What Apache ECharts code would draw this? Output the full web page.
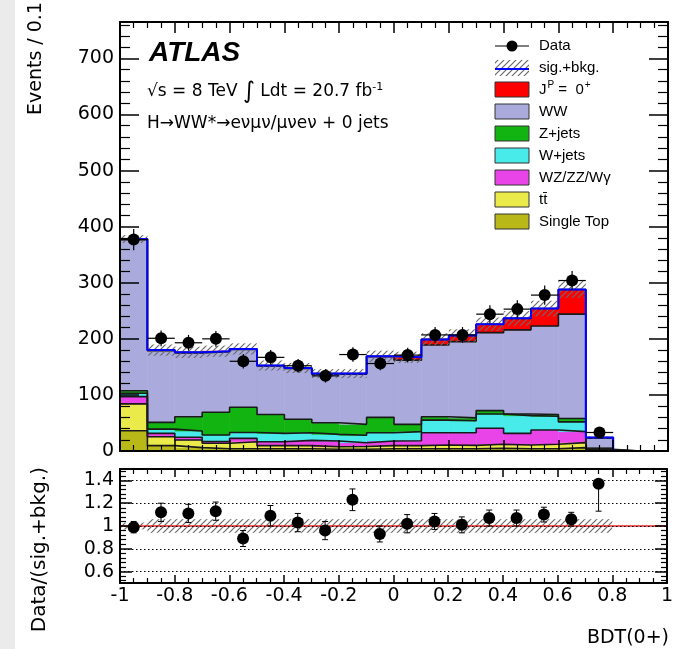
<!DOCTYPE html>
<html>
<head>
<meta charset="utf-8">
<script src="https://cdn.jsdelivr.net/npm/echarts@6/dist/echarts.min.js"></script>
<style>
html,body{margin:0;padding:0;background:#fff;}
#chart{width:676px;height:649px;}
</style>
</head>
<body>
<div id="chart"></div>
<script>
// BDT(0+) distribution, 20 bins of width 0.1
const binEdges = [-1,-0.9,-0.8,-0.7,-0.6,-0.5,-0.4,-0.3,-0.2,-0.1,0,0.1,0.2,0.3,0.4,0.5,0.6,0.7,0.8,0.9,1];

// Expected events per bin, stacked bottom to top
const singleTop = [36,9.5,6,4,4,4,4,3,3,4,4,4,4,5,4,4,6,1,0,0];
const ttbar     = [48,16,13.6,9.7,12.6,5.5,5.5,4.7,5,5.5,5.5,6.7,6,7,6.7,8,9,1,0,0];
const wzzzwg    = [13,6,4.8,3.3,6,7.1,9.5,10.1,6.8,8.3,8.9,21.9,22.6,28.5,20.8,25.4,19.5,1,0,0];
const wjets     = [6,7.5,11.2,11.5,10.4,14.9,13.6,11.9,13.2,14.8,16.1,22.4,21.4,25.5,31.5,24.6,17.5,1.5,0,0];
const zjets     = [4.5,12,25.4,40.5,45,33.5,23.9,20.8,19.5,27.4,13,6,5,6,3,3,6,0.5,0,0];
const ww        = [269.5,128,114,108,103,86.5,90.5,86.5,89.5,108,114.5,128,136,139,150,158,186,18,0,0];
const signal0p  = [1,1,1,1,1,1,1,1,1,1,5,10,11,15,20.5,31,44,1,0,0];

// Systematic uncertainty on sig.+bkg. (events)
const bandHalf  = [7,10,10,10,10,9,9,8,8,10,10,11,11,12,13,14,15,2,0,0];

// Observed data and statistical errors
const dataVals  = [377,201,193,200,160,167,152,134,172,156,171,207,207,244,253,278,304,33,null,null];
const dataErr   = [19,14,14,14,13,13,12,12,13,12,13,14,14,16,16,17,17,6,0,0];

// Ratio panel
const ratioVals = [0.99,1.12,1.11,1.13,0.89,1.09,1.03,0.96,1.23,0.93,1.02,1.04,1.01,1.07,1.07,1.10,1.06,1.37];
const ratioErrDn= [0.05,0.08,0.08,0.08,0.07,0.09,0.08,0.08,0.095,0.07,0.08,0.07,0.07,0.07,0.07,0.065,0.06,0.24];
const ratioErrUp= [0.05,0.08,0.08,0.08,0.07,0.09,0.08,0.08,0.095,0.07,0.08,0.07,0.07,0.07,0.07,0.065,0.06,0];
const ratioBand = [0.03,0.06,0.06,0.06,0.06,0.06,0.06,0.06,0.06,0.06,0.06,0.06,0.06,0.06,0.06,0.06,0.06,0.06];

const layers = [
  {name:'Single Top', vals:singleTop, color:'#b8b818'},
  {name:'tt', vals:ttbar, color:'#eaea4a'},
  {name:'WZ/ZZ/Wγ', vals:wzzzwg, color:'#e844e8'},
  {name:'W+jets', vals:wjets, color:'#48eaea'},
  {name:'Z+jets', vals:zjets, color:'#12b412'},
  {name:'WW', vals:ww, color:'#aaaadc'},
  {name:'JP=0+', vals:signal0p, color:'#ff0000'}
];

const nBins = binEdges.length - 1;
const FONT = 'Liberation Sans, Arial, Helvetica, sans-serif';
const WFONT = 'DejaVu Sans, Liberation Sans, sans-serif';

// hatch pattern for uncertainty bands
function makeHatch() {
  const c = document.createElement('canvas');
  c.width = 6; c.height = 6;
  const g = c.getContext('2d');
  g.strokeStyle = '#6a6a6a';
  g.lineWidth = 1.2;
  g.beginPath();
  g.moveTo(-1,7); g.lineTo(7,-1);
  g.moveTo(-4,4); g.lineTo(4,-4);
  g.moveTo(2,10); g.lineTo(10,2);
  g.stroke();
  return c;
}
const hatch = {image: makeHatch(), repeat: 'repeat'};

// step points on bin edges (last bin repeated at the right edge)
function stepPoints(vals) {
  return binEdges.map((x,i) => [x, vals[Math.min(i, nBins-1)]]);
}

function rectRenderer(fill, stroke) {
  return function(params, api) {
    const p1 = api.coord([api.value(0), api.value(3)]);
    const p2 = api.coord([api.value(1), api.value(2)]);
    const st = {fill: fill};
    if (stroke) { st.stroke = stroke; st.lineWidth = 0.6; }
    return {type:'rect', shape:{x:p1[0], y:p1[1], width:p2[0]-p1[0], height:p2[1]-p1[1]}, style:st};
  };
}

const series = [];

// stacked histogram: filled bins plus a dark step outline on each layer
let base = new Array(nBins).fill(0);
layers.forEach((l, k) => {
  const top = base.map((b, i) => b + l.vals[i]);
  const rects = [];
  for (let i = 0; i < nBins; i++) {
    if (l.vals[i] > 0) rects.push([binEdges[i], binEdges[i+1], base[i], top[i]]);
  }
  series.push({type:'custom', xAxisIndex:0, yAxisIndex:0, data:rects,
    renderItem:rectRenderer(l.color, l.color), silent:true, z:2});
  series.push({type:'line', xAxisIndex:0, yAxisIndex:0, data:stepPoints(top), step:'end',
    symbol:'none', silent:true, lineStyle:{color:'#1a1a1a', width:1.6}, z:2.5});
  base = top;
});
const totals = base;

// uncertainty band on sig.+bkg.
const bandData = [];
for (let i = 0; i < nBins; i++) {
  if (bandHalf[i] > 0) bandData.push([binEdges[i], binEdges[i+1], totals[i]-bandHalf[i], totals[i]+bandHalf[i]]);
}
series.push({type:'custom', xAxisIndex:0, yAxisIndex:0, data:bandData, renderItem:rectRenderer(hatch), silent:true, z:3});

// sig.+bkg. outline
series.push({type:'line', xAxisIndex:0, yAxisIndex:0, data:stepPoints(totals), step:'end',
  symbol:'none', silent:true, lineStyle:{color:'#0000ff', width:2}, z:4});

// data points with error bars
const dataPts = [], dataBars = [];
for (let i = 0; i < nBins; i++) {
  if (dataVals[i] == null) continue;
  const xc = (binEdges[i] + binEdges[i+1]) / 2;
  dataPts.push([xc, dataVals[i]]);
  dataBars.push([xc, dataVals[i], dataErr[i], (binEdges[i+1]-binEdges[i])/2]);
}
series.push({type:'custom', xAxisIndex:0, yAxisIndex:0, data:dataBars, silent:true, z:5,
  renderItem:function(params, api){
    const x = api.value(0), y = api.value(1), e = api.value(2), hw = api.value(3);
    const a = api.coord([x, y-e]), b = api.coord([x, y+e]);
    const l = api.coord([x-hw, y]), r = api.coord([x+hw, y]);
    return {type:'group', children:[
      {type:'line', shape:{x1:a[0],y1:a[1],x2:b[0],y2:b[1]}, style:{stroke:'#000', lineWidth:1.2}},
      {type:'line', shape:{x1:l[0],y1:l[1],x2:r[0],y2:r[1]}, style:{stroke:'#000', lineWidth:1.2}}
    ]};
  }});
series.push({type:'scatter', xAxisIndex:0, yAxisIndex:0, data:dataPts, symbol:'circle', symbolSize:12,
  itemStyle:{color:'#000', opacity:1}, silent:true, z:6});

// ratio panel: band, unity line, points
const rBand = [], rPts = [], rBars = [];
for (let i = 0; i < ratioVals.length; i++) {
  const xc = (binEdges[i] + binEdges[i+1]) / 2;
  rBand.push([binEdges[i], binEdges[i+1], 1-ratioBand[i], 1+ratioBand[i]]);
  rPts.push([xc, ratioVals[i]]);
  rBars.push([xc, ratioVals[i], ratioErrDn[i], ratioErrUp[i]]);
}
series.push({type:'custom', xAxisIndex:2, yAxisIndex:2, data:rBand, renderItem:rectRenderer(hatch), silent:true, z:3, clip:true});
series.push({type:'line', xAxisIndex:2, yAxisIndex:2, data:[[binEdges[0],1],[binEdges[nBins],1]],
  symbol:'none', silent:true, lineStyle:{color:'#e8211e', width:1.4}, z:4});
series.push({type:'custom', xAxisIndex:2, yAxisIndex:2, data:rBars, silent:true, z:5, clip:true,
  renderItem:function(params, api){
    const x = api.value(0), y = api.value(1), dn = api.value(2), up = api.value(3);
    const a = api.coord([x, y-dn]), b = api.coord([x, y+up]);
    const ch = [{type:'line', shape:{x1:a[0],y1:a[1],x2:b[0],y2:b[1]}, style:{stroke:'#000', lineWidth:1}}];
    if (dn > 0) ch.push({type:'line', shape:{x1:a[0]-3,y1:a[1],x2:a[0]+3,y2:a[1]}, style:{stroke:'#000', lineWidth:1}});
    if (up > 0) ch.push({type:'line', shape:{x1:b[0]-3,y1:b[1],x2:b[0]+3,y2:b[1]}, style:{stroke:'#000', lineWidth:1}});
    return {type:'group', children:ch};
  }});
series.push({type:'scatter', xAxisIndex:2, yAxisIndex:2, data:rPts, symbol:'circle', symbolSize:12,
  itemStyle:{color:'#000', opacity:1}, silent:true, z:6});

// axes: frame with inward ticks on all four sides
function xAx(grid, pos, labels, major, minor) {
  return {type:'value', gridIndex:grid, position:pos, min:-1, max:1, interval:0.2, z:10,
    axisLine:{show:true, onZero:false, lineStyle:{color:'#000', width:2}},
    axisTick:{show:true, inside:true, length:major, lineStyle:{color:'#000', width:1.5}},
    minorTick:{show:true, splitNumber:4, length:minor, lineStyle:{color:'#000', width:1.2}},
    axisLabel:{show:labels, color:'#000', fontFamily:WFONT, fontSize:19, margin:4,
      formatter:function(v){ return String(+v.toFixed(1)); }},
    splitLine:{show:false}};
}
const xAxes = [
  xAx(0,'bottom',false,11,6), xAx(0,'top',false,11,6),
  xAx(1,'bottom',true,8,5), xAx(1,'top',false,8,5)
];
const yTop = function(pos, labels){
  return {type:'value', gridIndex:0, position:pos, min:0, max:765, interval:100, z:10,
    axisLine:{show:true, onZero:false, lineStyle:{color:'#000', width:2}},
    axisTick:{show:true, inside:true, length:19, lineStyle:{color:'#000', width:1.5}},
    minorTick:{show:true, splitNumber:5, length:10, lineStyle:{color:'#000', width:1.2}},
    axisLabel:{show:labels, color:'#000', fontFamily:WFONT, fontSize:19, margin:6, showMaxLabel:false},
    splitLine:{show:false}};
};
const yRatio = function(pos, labels){
  return {type:'value', gridIndex:1, position:pos, min:0.5, max:1.5, splitNumber:5, z:10,
    axisLine:{show:true, onZero:false, lineStyle:{color:'#000', width:2}},
    axisTick:{show:true, inside:true, length:12, lineStyle:{color:'#000', width:1.5}},
    minorTick:{show:true, splitNumber:5, length:6, lineStyle:{color:'#000', width:1.2}},
    axisLabel:{show:labels, color:'#000', fontFamily:WFONT, fontSize:19, margin:6,
      showMinLabel:false, showMaxLabel:false,
      formatter:function(v){ return String(+v.toFixed(1)); }},
    splitLine:{show:labels, lineStyle:{color:'#000', width:1, type:[1.5,2.5]}}};
};
const yAxes = [yTop('left',true), yTop('right',false), yRatio('left',true), yRatio('right',false)];

// legend and labels drawn as text / shapes
const legendRows = [
  {kind:'data', label:'Data'},
  {kind:'band', label:'sig.+bkg.'},
  {kind:'box', color:'#ff0000', rich:'{n|J}{s|P}{n| =  0}{s|+}'},
  {kind:'box', color:'#aaaadc', label:'WW'},
  {kind:'box', color:'#12b412', label:'Z+jets'},
  {kind:'box', color:'#48eaea', label:'W+jets'},
  {kind:'box', color:'#e844e8', label:'WZ/ZZ/Wγ'},
  {kind:'box', color:'#eaea4a', label:'tt\u0304'},
  {kind:'box', color:'#b8b818', label:'Single Top'}
];
const graphics = [];
// light page margin on the left edge
graphics.push({type:'rect', shape:{x:0, y:0, width:15, height:649}, style:{fill:'#ebebeb'}, z:-10});
const LX = 495, LW = 34, LY0 = 46, LDY = 22;
legendRows.forEach((r, i) => {
  const yc = LY0 + i*LDY;
  if (r.kind === 'data') {
    graphics.push({type:'line', shape:{x1:LX, y1:yc, x2:LX+LW, y2:yc}, style:{stroke:'#000', lineWidth:1.2}});
    graphics.push({type:'circle', shape:{cx:LX+LW/2, cy:yc, r:5.5}, style:{fill:'#000'}});
  } else if (r.kind === 'band') {
    graphics.push({type:'rect', shape:{x:LX, y:yc-8, width:LW, height:16}, style:{fill:hatch}});
    graphics.push({type:'line', shape:{x1:LX, y1:yc+1, x2:LX+LW, y2:yc+1}, style:{stroke:'#0000ff', lineWidth:2}});
  } else {
    graphics.push({type:'rect', shape:{x:LX, y:yc-8, width:LW, height:15}, style:{fill:r.color, stroke:'#333', lineWidth:1}});
  }
  const ts = {x:LX+44, y:yc, textVerticalAlign:'middle', fill:'#000', fontFamily:FONT, fontSize:15};
  if (r.rich) {
    ts.text = r.rich;
    ts.rich = {n:{fontSize:15, fontFamily:FONT, fill:'#000'}, s:{fontSize:10, fontFamily:FONT, fill:'#000', padding:[0,0,9,1]}};
  } else ts.text = r.label;
  graphics.push({type:'text', style:ts});
});

graphics.push({type:'text', style:{x:149, y:53, text:'ATLAS', textVerticalAlign:'middle', fill:'#000',
  fontFamily:FONT, fontSize:28, fontWeight:'bold', fontStyle:'italic'}});
graphics.push({type:'text', style:{x:147, y:92, textVerticalAlign:'middle', fill:'#000', fontFamily:WFONT,
  text:'{n|\u221As = 8 TeV }{i|\u222B}{n| Ldt = 20.7 fb}{s|-1}',
  rich:{n:{fontSize:17, fontFamily:WFONT, fill:'#000'}, i:{fontSize:23, fontFamily:WFONT, fill:'#000'},
        s:{fontSize:11, fontFamily:WFONT, fill:'#000', padding:[0,0,10,0]}}}});
graphics.push({type:'text', style:{x:147, y:124, textVerticalAlign:'middle', fill:'#000', fontFamily:WFONT, fontSize:17,
  text:'H\u2192WW*\u2192e\u03BD\u03BC\u03BD/\u03BC\u03BDe\u03BD + 0 jets'}});

// axis titles
graphics.push({type:'text', x:36, y:2, rotation:Math.PI/2,
  style:{text:'Events / 0.1', textAlign:'right', textVerticalAlign:'middle', fill:'#000', fontFamily:WFONT, fontSize:19}});
graphics.push({type:'text', x:40, y:467, rotation:Math.PI/2,
  style:{text:'Data/(sig.+bkg.)', textAlign:'right', textVerticalAlign:'middle', fill:'#000', fontFamily:WFONT, fontSize:20}});
graphics.push({type:'text', style:{x:669, y:638, text:'BDT(0+)', textAlign:'right', textVerticalAlign:'middle',
  fill:'#000', fontFamily:WFONT, fontSize:19}});

const chart = echarts.init(document.getElementById('chart'), null, {renderer:'canvas'});
chart.setOption({
  animation:false,
  backgroundColor:'#ffffff',
  grid:[
    {left:120, top:22, width:548, height:429},
    {left:120, top:469, width:548, height:114}
  ],
  xAxis: xAxes,
  yAxis: yAxes,
  series: series,
  graphic: graphics
});
</script>
</body>
</html>
